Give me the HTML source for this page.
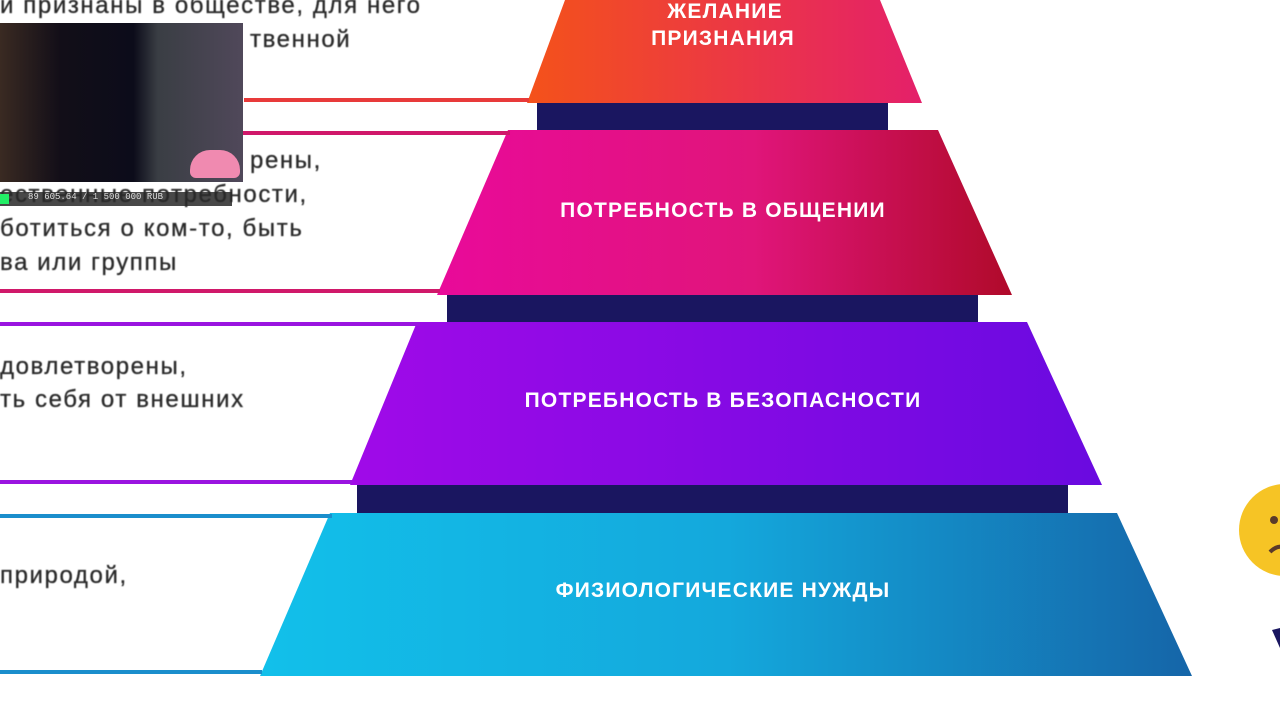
<!DOCTYPE html><html><head><meta charset="utf-8"><style>
body{margin:0;width:1280px;height:720px;overflow:hidden;background:#fff;font-family:"Liberation Sans",sans-serif}
.t{position:absolute;font-size:24px;letter-spacing:1.6px;color:#2a2a2a;white-space:nowrap;filter:blur(0.4px);-webkit-text-stroke:0.3px #2a2a2a}
</style></head><body>
<svg width="1280" height="720" style="position:absolute;left:0;top:0">
<defs>
<linearGradient id="g1"><stop offset="0" stop-color="#f4521a"/><stop offset="1" stop-color="#e4206a"/></linearGradient>
<linearGradient id="g2"><stop offset="0" stop-color="#e90a9a"/><stop offset="0.55" stop-color="#e0157a"/><stop offset="1" stop-color="#b00a2a"/></linearGradient>
<linearGradient id="g3"><stop offset="0" stop-color="#a00ae8"/><stop offset="1" stop-color="#6a0ae0"/></linearGradient>
<linearGradient id="g4"><stop offset="0" stop-color="#12c0ea"/><stop offset="0.5" stop-color="#14a8dc"/><stop offset="1" stop-color="#1565a8"/></linearGradient>
</defs>
<polygon points="537,103 888,103 888,130 537,130" fill="#1a1660"/>
<polygon points="447,295 978,295 978,322 447,322" fill="#1a1660"/>
<polygon points="357,485 1068,485 1068,513 357,513" fill="#1a1660"/>
<polygon points="565,0 880,0 922,103 527,103" fill="url(#g1)"/>
<polygon points="508,130 938,130 1012,295 437,295" fill="url(#g2)"/>
<polygon points="417,322 1027,322 1102,485 350,485" fill="url(#g3)"/>
<polygon points="330,513 1117,513 1192,676 260,676" fill="url(#g4)"/>
<rect x="244" y="98" width="285" height="4" fill="#e83a3a"/>
<rect x="0" y="131" width="510" height="4" fill="#d0186a"/>
<rect x="0" y="289" width="440" height="4" fill="#d0186a"/>
<rect x="0" y="322" width="420" height="4" fill="#9a14e0"/>
<rect x="0" y="480" width="352" height="4" fill="#9a14e0"/>
<rect x="0" y="514" width="332" height="4" fill="#1a8ecc"/>
<rect x="0" y="670" width="262" height="4" fill="#1a8ecc"/>
<circle cx="1285" cy="530" r="46" fill="#f6c425"/>
<circle cx="1274" cy="520" r="4" fill="#5a3a2a"/>
<path d="M1270 552 Q1278 544 1286 548" stroke="#5a3a2a" stroke-width="4" fill="none"/>
<polygon points="1272,630 1280,628 1280,648" fill="#1a1660"/>
<g fill="#fff" font-family="Liberation Sans" font-weight="bold" font-size="21" letter-spacing="1.2" text-anchor="middle">
<text x="725" y="18">ЖЕЛАНИЕ</text><text x="723" y="45">ПРИЗНАНИЯ</text>
<text x="723" y="217">ПОТРЕБНОСТЬ В ОБЩЕНИИ</text>
<text x="723" y="407">ПОТРЕБНОСТЬ В БЕЗОПАСНОСТИ</text>
<text x="723" y="597">ФИЗИОЛОГИЧЕСКИЕ НУЖДЫ</text>
</g>
</svg>
<div class="t" style="left:0;top:-8px">и признаны в обществе, для него</div>
<div class="t" style="left:250px;top:26px">твенной</div>
<div class="t" style="left:250px;top:147px">рены,</div>
<div class="t" style="left:0;top:181px">ественные потребности,</div>
<div class="t" style="left:0;top:215px">ботиться о ком-то, быть</div>
<div class="t" style="left:0;top:249px">ва или группы</div>
<div class="t" style="left:0;top:353px">довлетворены,</div>
<div class="t" style="left:0;top:386px">ть себя от внешних</div>
<div class="t" style="left:0;top:562px">природой,</div>
<div style="position:absolute;left:0;top:23px;width:243px;height:159px;background:linear-gradient(90deg,#3a2a22 0%,#120e18 25%,#0c0c1a 55%,#3a3e44 65%,#50485a 100%)"></div>
<div style="position:absolute;left:190px;top:150px;width:50px;height:28px;background:#f08ab0;border-radius:20px 20px 6px 6px"></div>
<div style="position:absolute;left:0;top:192px;width:232px;height:14px;background:rgba(40,40,40,.85);color:#ddd;font:9px 'Liberation Mono',monospace;padding-left:28px;box-sizing:border-box">89 605.64 / 1 500 000 RUB</div>
<div style="position:absolute;left:0;top:194px;width:9px;height:10px;background:#2e6"></div>
</body></html>
